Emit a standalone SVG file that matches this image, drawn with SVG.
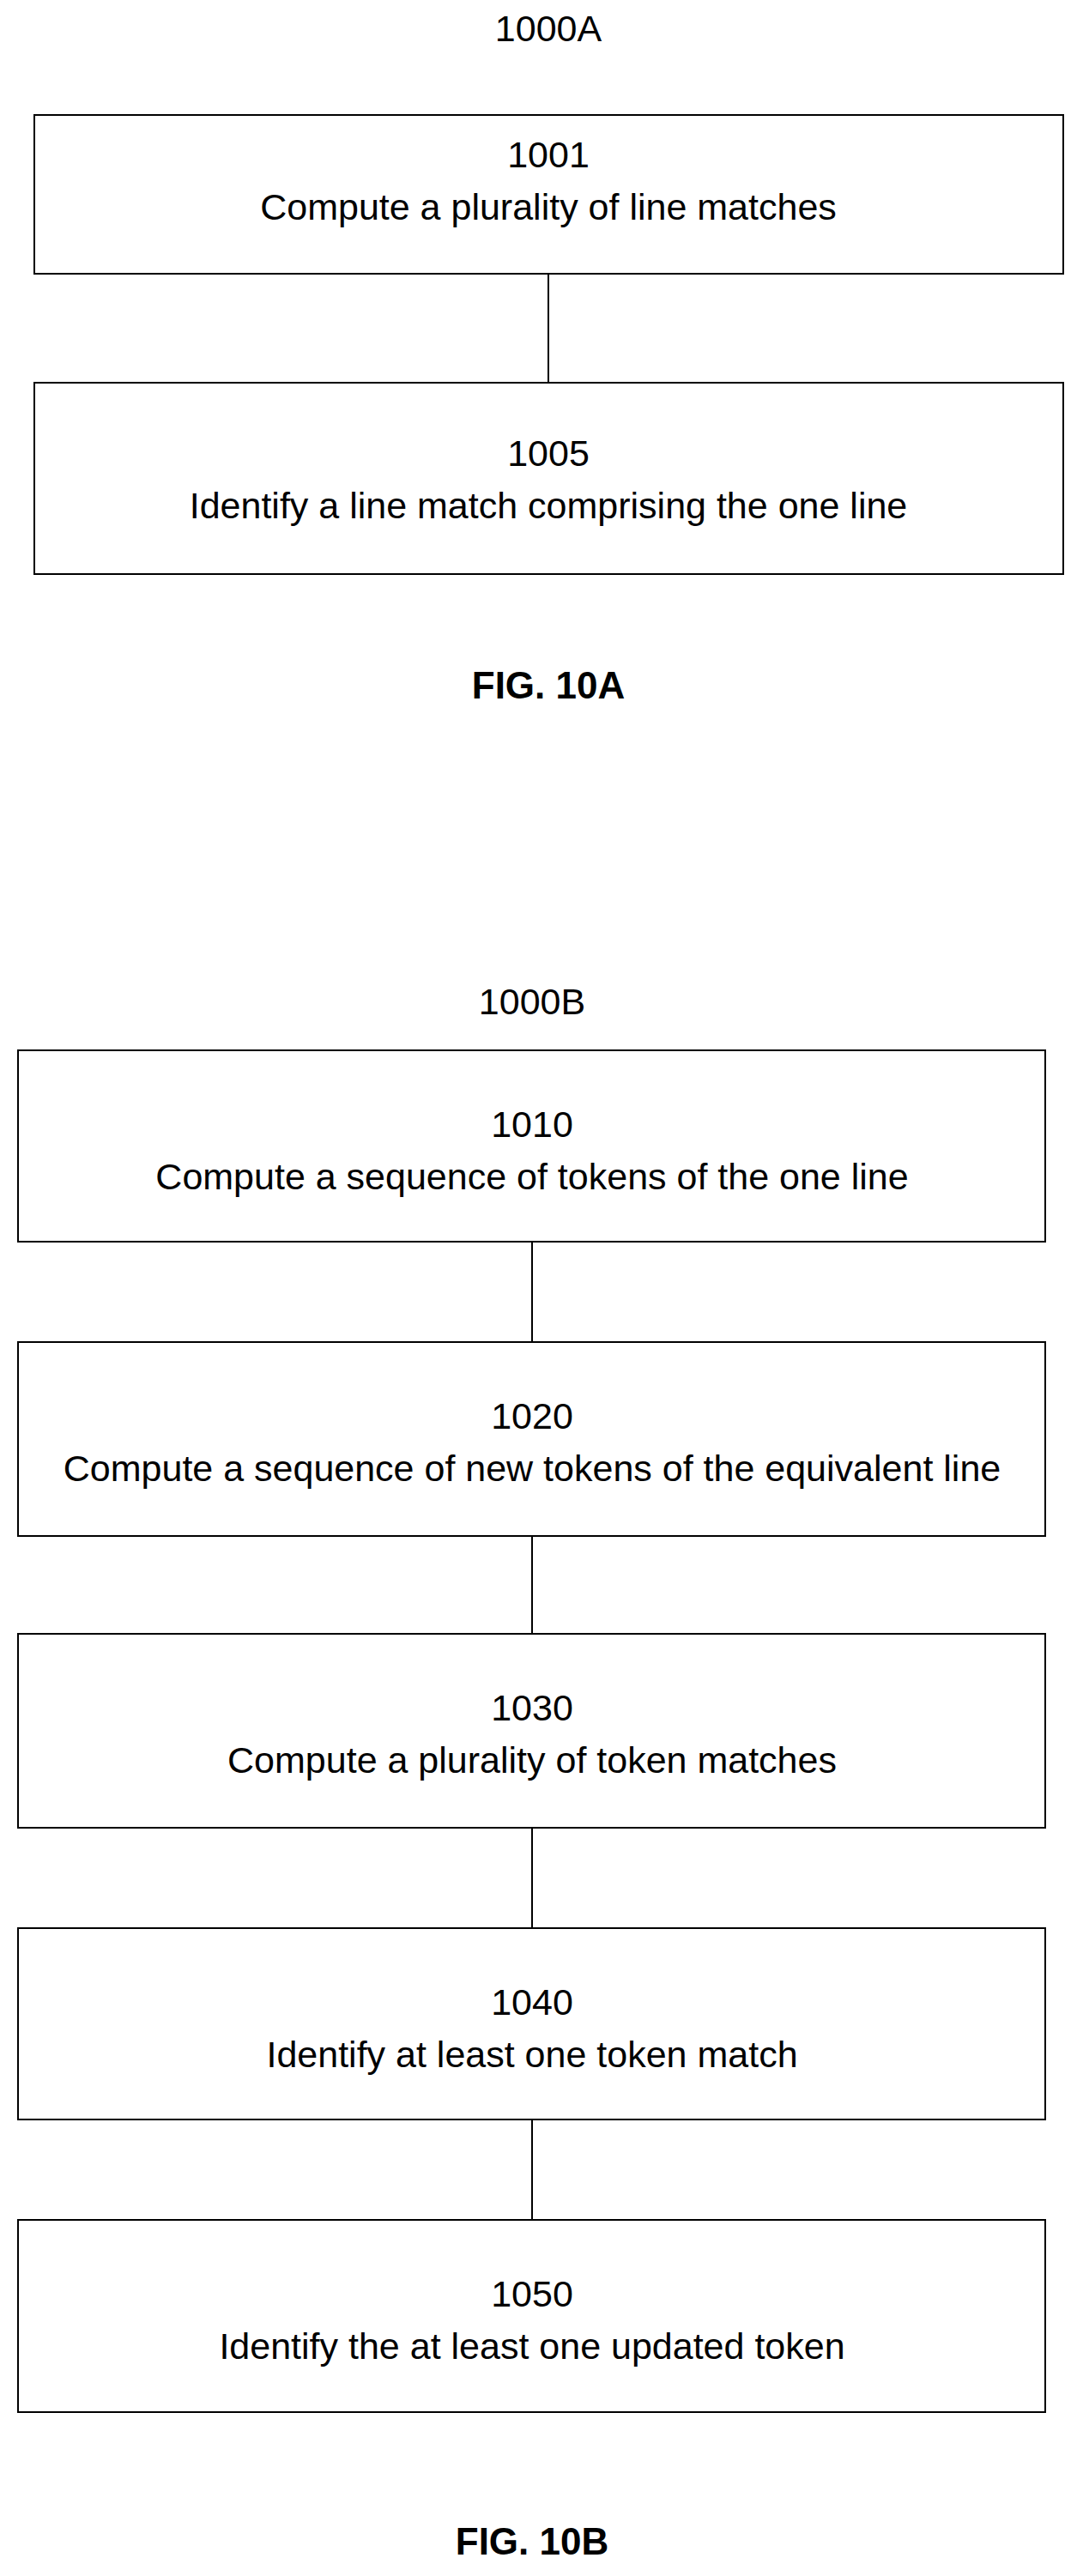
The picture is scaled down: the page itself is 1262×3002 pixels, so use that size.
<svg xmlns="http://www.w3.org/2000/svg" width="1262" height="3002" viewBox="0 0 1262 3002">
<style>
.b{fill:none;stroke:#000;stroke-width:2}
.c{stroke:#000;stroke-width:2}
text{font-family:"Liberation Sans",Arial,sans-serif;font-size:43px;text-anchor:middle;fill:#000}
.f{font-weight:bold;font-size:44px}
</style>
<rect width="1262" height="3002" fill="#fff"/>
<text x="639" y="48">1000A</text>
<g id="n1001"><rect class="b" x="40" y="134" width="1199" height="185"/><text x="639" y="195">1001</text><text x="639" y="256">Compute a plurality of line matches</text></g>
<g id="n1005"><rect class="b" x="40" y="446" width="1199" height="223"/><text x="639" y="543">1005</text><text x="639" y="604">Identify a line match comprising the one line</text></g>
<text class="f" x="639" y="814">FIG. 10A</text>
<text x="620" y="1182">1000B</text>
<g id="n1010"><rect class="b" x="21" y="1224" width="1197" height="223"/><text x="620" y="1325">1010</text><text x="620" y="1386">Compute a sequence of tokens of the one line</text></g>
<g id="n1020"><rect class="b" x="21" y="1564" width="1197" height="226"/><text x="620" y="1665">1020</text><text x="620" y="1726">Compute a sequence of new tokens of the equivalent line</text></g>
<g id="n1030"><rect class="b" x="21" y="1904" width="1197" height="226"/><text x="620" y="2005">1030</text><text x="620" y="2066">Compute a plurality of token matches</text></g>
<g id="n1040"><rect class="b" x="21" y="2247" width="1197" height="223"/><text x="620" y="2348">1040</text><text x="620" y="2409">Identify at least one token match</text></g>
<g id="n1050"><rect class="b" x="21" y="2587" width="1197" height="224"/><text x="620" y="2688">1050</text><text x="620" y="2749">Identify the at least one updated token</text></g>
<text class="f" x="620" y="2977">FIG. 10B</text>
<g id="connectors">
<line class="c" x1="639" y1="319" x2="639" y2="446"/>
<line class="c" x1="620" y1="1447" x2="620" y2="1564"/>
<line class="c" x1="620" y1="1790" x2="620" y2="1904"/>
<line class="c" x1="620" y1="2130" x2="620" y2="2247"/>
<line class="c" x1="620" y1="2470" x2="620" y2="2587"/>
</g>
</svg>
